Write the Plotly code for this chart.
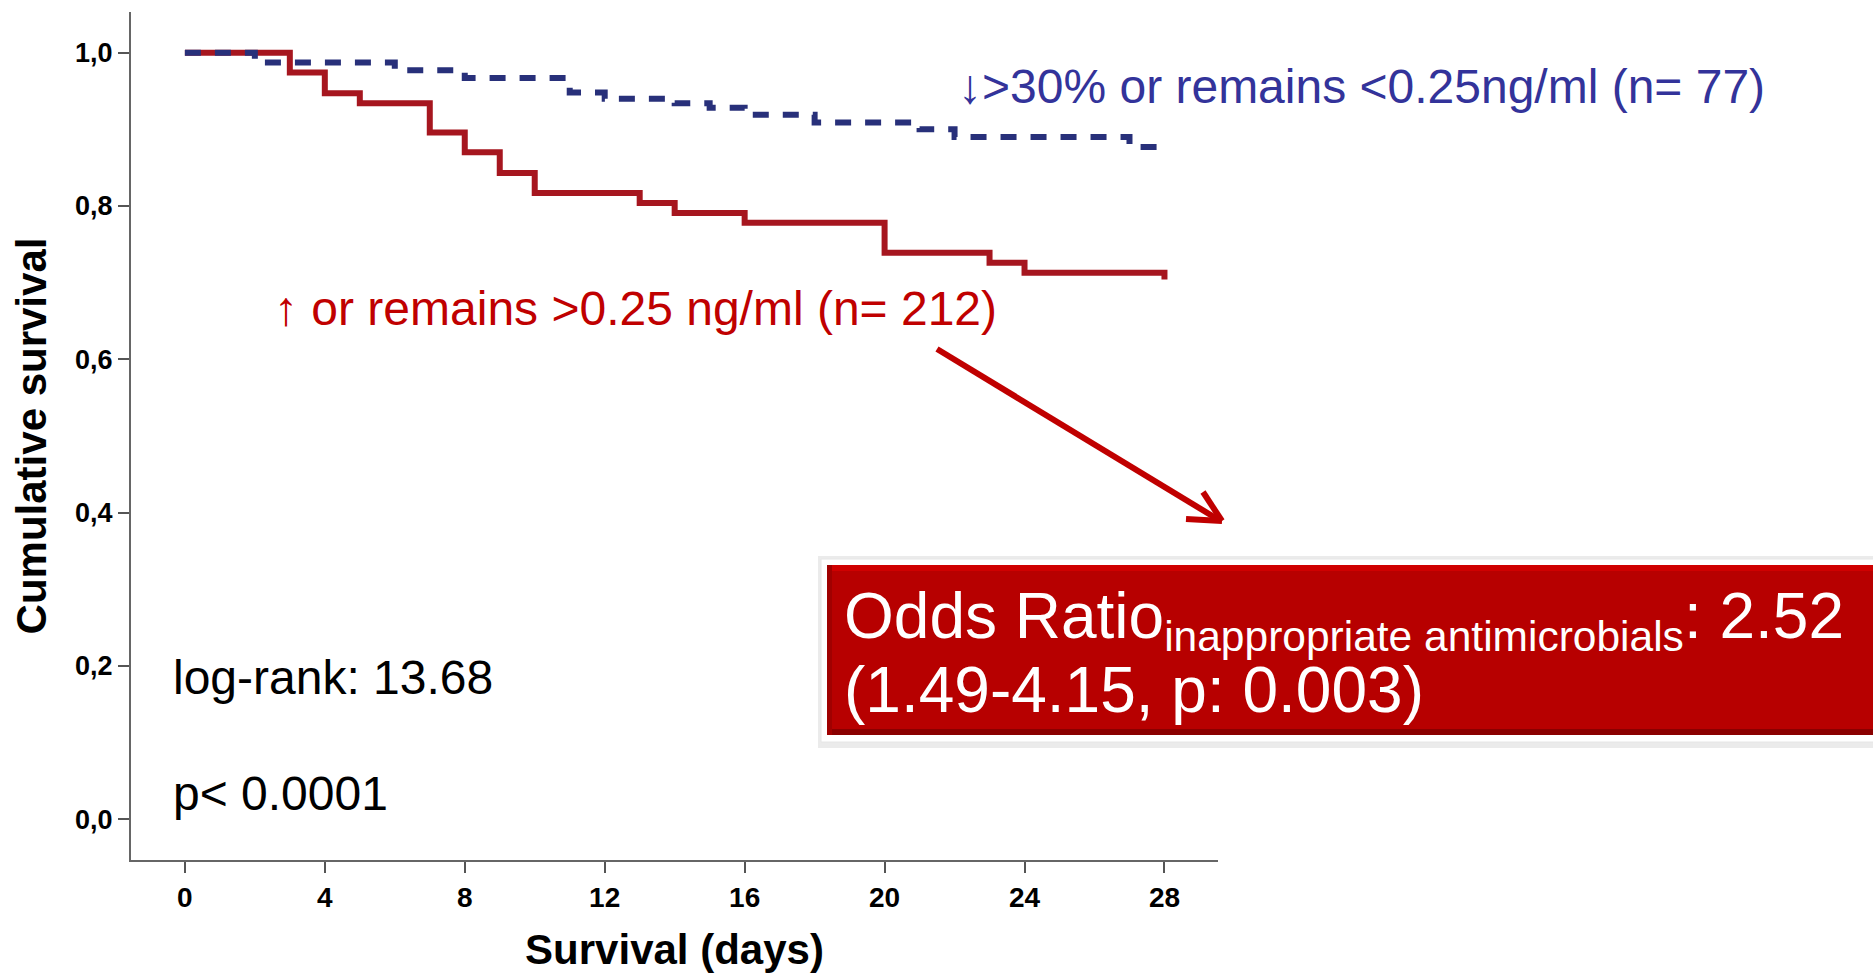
import plotly.graph_objects as go

# ---- data ----
red_days = [0, 3, 4, 5, 7, 8, 9, 10, 13, 14, 16, 20, 23, 24, 28, 28]
red_surv = [1.0, 0.974, 0.947, 0.934, 0.896, 0.870, 0.843, 0.817, 0.804, 0.791, 0.778, 0.739, 0.726, 0.713, 0.713, 0.704]

blue_days = [0, 2, 6, 8, 11, 12, 14, 15, 16, 18, 21, 22, 27, 28]
blue_surv = [1.0, 0.987, 0.977, 0.967, 0.948, 0.940, 0.934, 0.928, 0.919, 0.909, 0.900, 0.890, 0.877, 0.877]

x_ticks = [0, 4, 8, 12, 16, 20, 24, 28]
y_ticks = [0.0, 0.2, 0.4, 0.6, 0.8, 1.0]
y_ticktext = ["0,0", "0,2", "0,4", "0,6", "0,8", "1,0"]

red_label = "↑ or remains >0.25 ng/ml (n= 212)"
blue_label = "↓>30% or remains <0.25ng/ml (n= 77)"
stat1 = "log-rank: 13.68"
stat2 = "p< 0.0001"
or_line1 = ("Odds Ratio<sub><span style='font-size:42.5px'>inappropriate antimicrobials</span></sub>: 2.52")
or_line2 = "(1.49-4.15, p: 0.003)"

# ---- layout geometry (pixels) ----
W, H = 1873, 973
L, R, T, B = 131, 1218, 12, 860


def px(x):
    return (x - L) / (R - L)


def py(y):
    return (B - y) / (B - T)


FONT = "Liberation Sans, Arial, Helvetica, sans-serif"

fig = go.Figure()
fig.add_trace(go.Scatter(x=red_days, y=red_surv, mode="lines", line_shape="hv",
                         line=dict(color="#A6161F", width=6), showlegend=False, hoverinfo="skip"))
fig.add_trace(go.Scatter(x=blue_days, y=blue_surv, mode="lines", line_shape="hv",
                         line=dict(color="#28307A", width=6, dash="16px,14px"),
                         showlegend=False, hoverinfo="skip"))

shapes = []
# arrow
shapes.append(dict(type="line", xref="paper", yref="paper", x0=px(937), y0=py(349), x1=px(1219), y1=py(520),
                   line=dict(color="#C00000", width=6)))
shapes.append(dict(type="line", xref="paper", yref="paper", x0=px(1186), y0=py(519), x1=px(1222), y1=py(521),
                   line=dict(color="#C00000", width=6)))
shapes.append(dict(type="line", xref="paper", yref="paper", x0=px(1203), y0=py(492), x1=px(1222), y1=py(521),
                   line=dict(color="#C00000", width=6)))
# box shadow, white frame, red box with bevel
shapes.append(dict(type="rect", xref="paper", yref="paper", x0=px(818), y0=py(556), x1=px(1900), y1=py(748),
                   fillcolor="rgba(0,0,0,0.08)", line=dict(width=0), layer="above"))
shapes.append(dict(type="rect", xref="paper", yref="paper", x0=px(821), y0=py(559), x1=px(1900), y1=py(742),
                   fillcolor="white", line=dict(color="#E6E6E6", width=1), layer="above"))
shapes.append(dict(type="rect", xref="paper", yref="paper", x0=px(827), y0=py(565), x1=px(1900), y1=py(735),
                   fillcolor="#B70000", line=dict(width=0), layer="above"))
shapes.append(dict(type="rect", xref="paper", yref="paper", x0=px(827), y0=py(565), x1=px(1900), y1=py(571),
                   fillcolor="#CF0000", line=dict(width=0), layer="above"))
shapes.append(dict(type="rect", xref="paper", yref="paper", x0=px(827), y0=py(729), x1=px(1900), y1=py(735),
                   fillcolor="#8A0000", line=dict(width=0), layer="above"))
shapes.append(dict(type="rect", xref="paper", yref="paper", x0=px(827), y0=py(565), x1=px(832), y1=py(735),
                   fillcolor="#A00000", line=dict(width=0), layer="above"))

annotations = [
    dict(text=blue_label, x=px(956), y=py(86), xanchor="left", yanchor="middle",
         font=dict(family=FONT, size=48, color="#33339A")),
    dict(text=red_label, x=px(272), y=py(308), xanchor="left", yanchor="middle",
         font=dict(family=FONT, size=48, color="#C00000")),
    dict(text=stat1, x=px(171), y=py(677), xanchor="left", yanchor="middle",
         font=dict(family=FONT, size=48, color="black")),
    dict(text=stat2, x=px(171), y=py(793), xanchor="left", yanchor="middle",
         font=dict(family=FONT, size=48, color="black")),
    dict(text=or_line1, x=px(842), y=py(620), xanchor="left", yanchor="middle",
         font=dict(family=FONT, size=64, color="white")),
    dict(text=or_line2, x=px(842), y=py(690), xanchor="left", yanchor="middle",
         font=dict(family=FONT, size=64, color="white")),
]
for a in annotations:
    a.update(xref="paper", yref="paper", showarrow=False)

fig.update_layout(
    width=W, height=H,
    margin=dict(l=L, r=W - R, t=T, b=H - B, pad=0, autoexpand=False),
    paper_bgcolor="white", plot_bgcolor="white",
    shapes=shapes, annotations=annotations,
    font=dict(family=FONT, color="black"),
)
fig.update_xaxes(range=[-1.54, 29.53], showgrid=False, zeroline=False, automargin=False,
                 showline=True, linecolor="#666666", linewidth=2,
                 ticks="outside", ticklen=11, tickwidth=2, tickcolor="#555555",
                 tickvals=x_ticks, ticktext=[str(v) for v in x_ticks],
                 tickfont=dict(family=FONT, size=28, color="black", weight="bold"),
                 title=dict(text="<b>Survival (days)</b>", standoff=28,
                            font=dict(family=FONT, size=42, color="black")))
fig.update_yaxes(range=[-0.053, 1.053], showgrid=False, zeroline=False, automargin=False,
                 showline=True, linecolor="#666666", linewidth=2,
                 ticks="outside", ticklen=11, tickwidth=2, tickcolor="#555555",
                 tickvals=y_ticks, ticktext=y_ticktext,
                 tickfont=dict(family=FONT, size=27, color="black", weight="bold"),
                 title=dict(text="<b>Cumulative survival</b>", standoff=15,
                            font=dict(family=FONT, size=42, color="black")))

fig.write_html("out.html")
